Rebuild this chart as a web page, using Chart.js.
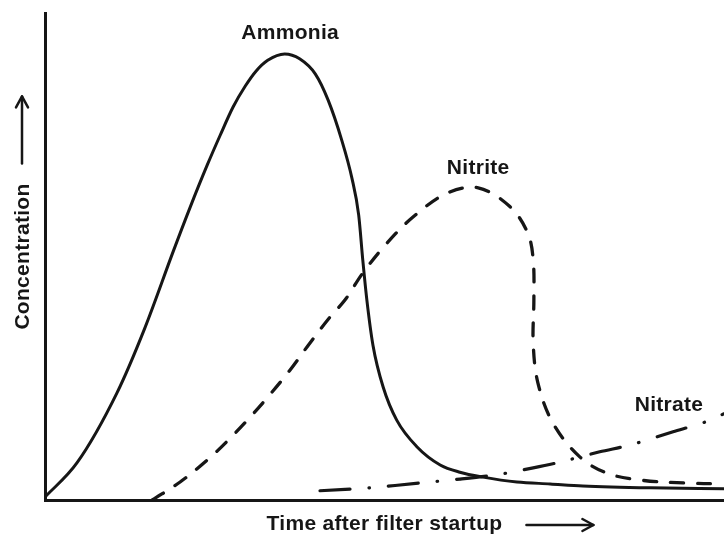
<!DOCTYPE html>
<html>
<head>
<meta charset="utf-8">
<script src="https://cdn.jsdelivr.net/npm/chart.js@4.4.1/dist/chart.umd.min.js"></script>
<style>
  html, body { margin: 0; padding: 0; background: #fff; }
  canvas { display: block; }
</style>
</head>
<body>
<canvas id="c" width="724" height="535"></canvas>
<script>
// ---- data (time and concentration in relative units 0-100) ----
const timeAmmonia = [0,4.7,10.6,14.7,18.9,21.4,23.9,25.8,27.7,29.5,31.1,32.8,35.3,37.5,39.8,41.7,43.7,45.2,46.2,46.8,47.4,48.3,49.8,51.8,54.8,58.2,61.1,64.5,69.5,74.4,79.2,89.1,100];
const ammonia     = [0.6,7.6,22.0,35.3,51.1,60.2,68.8,74.9,80.7,85.0,88.1,90.3,91.6,90.6,87.5,82.1,73.9,66.1,58.5,49.3,41.1,31.8,23.2,16.4,10.9,7.2,5.7,4.7,3.7,3.3,2.9,2.5,2.3];

const timeNitrite = [15.8,19.9,23.9,27.0,30.2,33.1,36.1,39.0,42.0,44.2,46.8,50.4,54.2,59.2,63.8,68.5,71.1,71.9,72.0,71.9,72.6,74.8,78.8,82.8,87.6,94.0,100];
const nitrite     = [0,3.7,8.2,12.3,17.0,21.6,26.7,32.2,37.6,41.1,46.6,52.8,58.1,63.0,64.1,60.2,54.8,49.3,41.1,32.2,24.0,15.8,8.8,5.5,4.1,3.5,3.3];

const timeNitrate = [40.5,47.9,55.2,61.1,67.0,71.9,75.9,81.7,86.2,92.5,97.2,100];
const nitrate     = [1.9,2.5,3.5,4.3,5.3,6.6,7.8,9.9,11.3,14.0,16.0,17.7];

const curveNames = ['Ammonia', 'Nitrite', 'Nitrate'];
const labelTime  = [36.1, 63.8, 91.9];
const labelConc  = [95.9, 68.2, 19.5];

const xTitle = 'Time after filter startup';
const yTitle = 'Concentration';

const FONT = "'Liberation Sans', Arial, Helvetica, sans-serif";
const INK = '#161616';
const TEXT_FONT = 'bold 21px ' + FONT;

function pts(xs, ys) { return xs.map((x, i) => ({ x: x, y: ys[i] })); }

const decorPlugin = {
  id: 'decor',
  beforeDraw(chart) { chart.ctx.letterSpacing = '0.3px'; },
  afterDatasetsDraw(chart) {
    const { ctx, scales: { x, y } } = chart;
    ctx.save();
    ctx.fillStyle = INK;
    ctx.font = TEXT_FONT;
    ctx.textAlign = 'center';
    ctx.textBaseline = 'middle';
    curveNames.forEach((n, i) => {
      ctx.fillText(n, x.getPixelForValue(labelTime[i]), y.getPixelForValue(labelConc[i]));
    });
    ctx.restore();
  },
  afterDraw(chart) {
    const { ctx, chartArea } = chart;
    ctx.save();
    ctx.font = TEXT_FONT;
    ctx.strokeStyle = INK;
    ctx.lineWidth = 2.5;
    ctx.lineCap = 'round';
    ctx.lineJoin = 'round';
    // x-title arrow
    const wx = ctx.measureText(xTitle).width;
    const cx = (chartArea.left + chartArea.right) / 2;
    const ay = 525;
    const x0 = cx + wx / 2 + 24, x1 = x0 + 67;
    ctx.beginPath(); ctx.moveTo(x0, ay); ctx.lineTo(x1, ay); ctx.stroke();
    ctx.beginPath(); ctx.moveTo(x1 - 11, ay - 6); ctx.lineTo(x1, ay); ctx.lineTo(x1 - 11, ay + 6); ctx.stroke();
    // y-title arrow
    const wy = ctx.measureText(yTitle).width;
    const cy = (chartArea.top + chartArea.bottom) / 2;
    const ax = 22;
    const y0 = cy - wy / 2 - 20, y1 = y0 - 67;
    ctx.beginPath(); ctx.moveTo(ax, y0); ctx.lineTo(ax, y1); ctx.stroke();
    ctx.beginPath(); ctx.moveTo(ax - 6, y1 + 11); ctx.lineTo(ax, y1); ctx.lineTo(ax + 6, y1 + 11); ctx.stroke();
    ctx.restore();
    ctx.letterSpacing = '0px';
  }
};

new Chart(document.getElementById('c'), {
  type: 'scatter',
  data: {
    datasets: [
      { label: curveNames[0], data: pts(timeAmmonia, ammonia), showLine: true,
        borderColor: INK, borderWidth: 3, pointRadius: 0, cubicInterpolationMode: 'monotone',
        borderCapStyle: 'round', borderJoinStyle: 'round' },
      { label: curveNames[1], data: pts(timeNitrite, nitrite), showLine: true,
        borderColor: INK, borderWidth: 3.3, pointRadius: 0, tension: 0.35,
        borderDash: [13, 14], borderCapStyle: 'round' },
      { label: curveNames[2], data: pts(timeNitrate, nitrate), showLine: true,
        borderColor: INK, borderWidth: 3.2, pointRadius: 0, tension: 0.3,
        borderDash: [30, 19, 0.5, 19], borderCapStyle: 'round' }
    ]
  },
  options: {
    responsive: false,
    animation: false,
    layout: { padding: { top: 13, right: 0, bottom: 0, left: 0 } },
    plugins: { legend: { display: false }, tooltip: { enabled: false } },
    scales: {
      x: {
        type: 'linear', min: 0, max: 100,
        ticks: { display: false },
        grid: { display: false, drawTicks: false },
        border: { display: true, color: INK, width: 3 },
        title: { display: true, text: xTitle, color: INK,
                 font: { family: FONT, size: 21, weight: 'bold', lineHeight: 1 },
                 padding: { top: 13.5, bottom: 0.5 } }
      },
      y: {
        type: 'linear', min: 0, max: 100,
        ticks: { display: false },
        grid: { display: false, drawTicks: false },
        border: { display: true, color: INK, width: 3 },
        title: { display: true, text: yTitle, color: INK,
                 font: { family: FONT, size: 21, weight: 'bold', lineHeight: 1 },
                 padding: { top: 12.5, bottom: 11.5 } }
      }
    }
  },
  plugins: [decorPlugin]
});
</script>
</body>
</html>
